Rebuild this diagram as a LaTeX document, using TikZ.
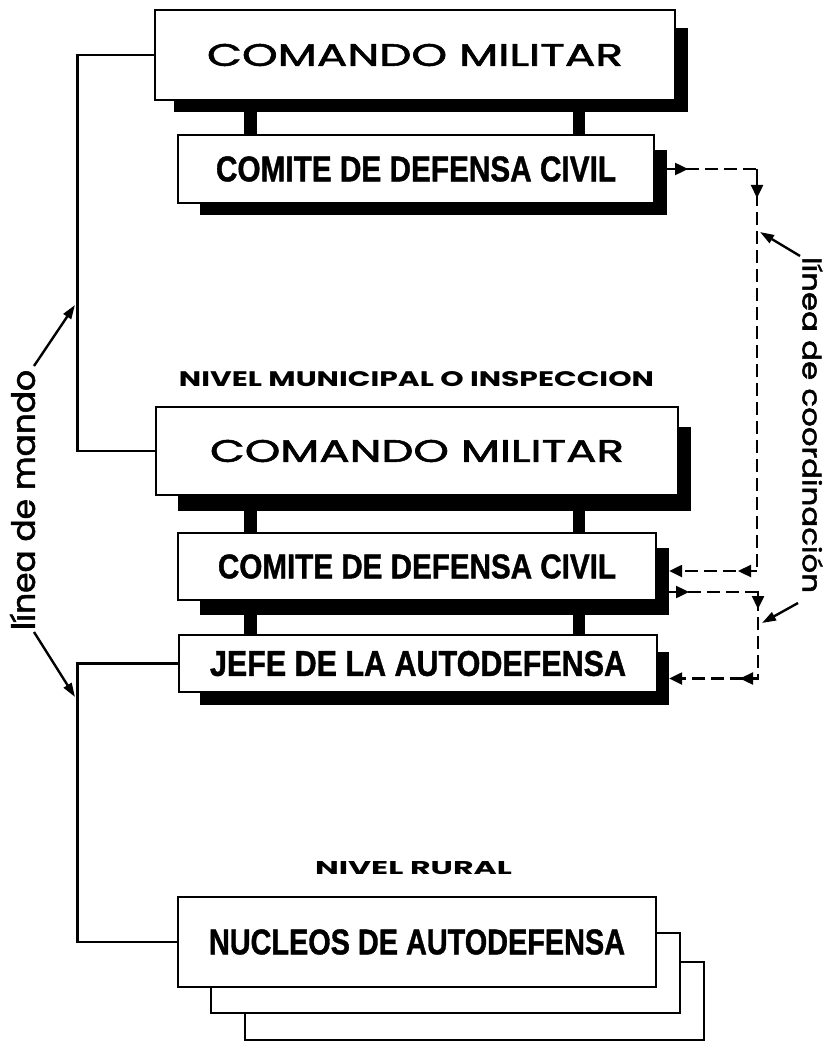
\documentclass[tikz,border=0pt]{standalone}
\usepackage{fontspec}
\usepackage{graphicx}
\setmainfont{Liberation Sans}
\newfontfamily\geo{Poppins}
\newfontfamily\cond{Liberation Sans}
\usetikzlibrary{arrows.meta,calc}
\newcommand{\fitto}[3]{\resizebox{#1pt}{#2pt}{#3}}
\begin{document}
\begin{tikzpicture}[x=1pt,y=-1pt,
  box/.style={draw, line width=2.8pt, fill=white, inner sep=0pt, rectangle},
  shad/.style={fill=black, inner sep=0pt, rectangle},
  bar/.style={line width=12.5pt},
  cmd/.style={line width=2.6pt},
  ptr/.style={line width=2.4pt, -{Triangle[length=14pt,width=9pt]}},
  coord/.style={line width=2.4pt, dash pattern=on 13pt off 6pt, -{Triangle[length=13pt,width=12pt]}},
  midtip/.style={line width=2.4pt, -{Triangle[length=13pt,width=12pt]}},
  lbl/.style={inner sep=0pt}
]
\fill[white] (0,0) rectangle (827,1048);
\useasboundingbox (0,0) rectangle (827,1048);

% shadows
\node[shad, minimum width=514pt, minimum height=84pt] (s1) at (431,70) {};
\node[shad, minimum width=467pt, minimum height=65pt] (sd1) at (433.5,182.5) {};
\node[shad, minimum width=513pt, minimum height=84pt] (s3) at (434.5,469) {};
\node[shad, minimum width=469pt, minimum height=67pt] (s4) at (434.5,581.5) {};
\node[shad, minimum width=469pt, minimum height=53pt] (s5) at (434.5,678.5) {};

% bars
\draw[bar] (250.5,0 |- s1.south) -- (250.5,137);
\draw[bar] (579,0 |- s1.south) -- (579,137);
\draw[bar] (250.5,0 |- s3.south) -- (250.5,535);
\draw[bar] (579,0 |- s3.south) -- (579,535);
\draw[bar] (250.5,0 |- s4.south) -- (250.5,637);
\draw[bar] (579,0 |- s4.south) -- (579,637);

% boxes
\node[box, minimum width=520pt, minimum height=90pt] (cm1) at (415,55)
  {\fitto{416}{22}{\geo\addfontfeature{FakeBold=1.6}COMANDO MILITAR}};
\node[box, minimum width=476pt, minimum height=68pt] (cd1) at (416,169)
  {\fitto{400}{25}{\cond\bfseries\addfontfeature{FakeBold=1.2}COMITE DE DEFENSA CIVIL}};
\node[box, minimum width=522pt, minimum height=88pt] (cm2) at (417,451)
  {\fitto{414}{22}{\geo\addfontfeature{FakeBold=1.6}COMANDO MILITAR}};
\node[box, minimum width=478pt, minimum height=67pt] (cd2) at (417,566.5)
  {\fitto{398}{24}{\cond\bfseries\addfontfeature{FakeBold=1.2}COMITE DE DEFENSA CIVIL}};
\node[box, minimum width=478pt, minimum height=57pt] (jefe) at (418,663.5)
  {\fitto{416}{25}{\cond\bfseries\addfontfeature{FakeBold=1.2}JEFE DE LA AUTODEFENSA}};

% nucleos stack
\node[box, minimum width=459pt, minimum height=78pt] (nuc3) at (474.5,1001) {};
\node[box, minimum width=469pt, minimum height=80pt] (nuc2) at (445.5,973) {};
\node[box, minimum width=478pt, minimum height=90pt] (nuc) at (417,942)
  {\fitto{416}{25}{\cond\bfseries\addfontfeature{FakeBold=1.2}NUCLEOS DE AUTODEFENSA}};

% level labels
\node[lbl] (nm) at (416.5,379) {\fitto{475}{15}{\geo\bfseries NIVEL MUNICIPAL O INSPECCION}};
\node[lbl] (nr) at (413.5,868) {\fitto{197}{13}{\geo\bfseries NIVEL RURAL}};

% linea de mando
\coordinate (ml) at (77.5,0);
\draw[cmd] (cm1.west) -- (cm1.west -| ml) |- (cm2.west);
\draw[cmd] (jefe.west) -- (jefe.west -| ml) |- (nuc.west);
\node[lbl, rotate=90] (lm) at (22.5,500) {\fitto{260}{25}{\geo\addfontfeature{FakeBold=1.8}línea de mando}};
\coordinate (lmA) at (34,366);
\coordinate (lmAt) at (75,305);
\coordinate (lmB) at (34,632);
\coordinate (lmBt) at (75,697);
\draw[ptr] (lmA) -- (lmAt);
\draw[ptr] (lmB) -- (lmBt);

% linea de coordinacion
\node[lbl, rotate=-90] (lc) at (812.5,425) {\fitto{336}{20}{\geo\addfontfeature{FakeBold=1.8}línea de coordinación}};
\coordinate (ca) at (757,169);
\coordinate (cb) at (757,571);
\coordinate (cc) at (758,592);
\coordinate (cd) at (758,678.5);
\coordinate (t1) at (688,169);
\coordinate (t2) at (757,198);
\coordinate (t3) at (738,571);
\coordinate (t4) at (689,592);
\coordinate (t5) at (758,609);
\coordinate (t6) at (740,678.5);
\draw[coord] (cd1.east -| sd1.east) -- (ca) -- (cb) -- (cb -| s4.east);
\draw[coord] (cc -| s4.east) -- (cc) -- (cd) -- (s5.east);
\draw[midtip] (cd1.east -| sd1.east) -- (t1);
\draw[midtip] (ca) -- (t2);
\draw[midtip] (cb) -- (t3);
\draw[midtip] (cc -| s4.east) -- (t4);
\draw[midtip] (cc) -- (t5);
\draw[midtip] (cd) -- (t6);
\coordinate (lcA) at (800,256);
\coordinate (lcAt) at (760,232);
\coordinate (lcB) at (798,603);
\coordinate (lcBt) at (762,623);
\draw[ptr] (lcA) -- (lcAt);
\draw[ptr] (lcB) -- (lcBt);
\end{tikzpicture}
\end{document}
